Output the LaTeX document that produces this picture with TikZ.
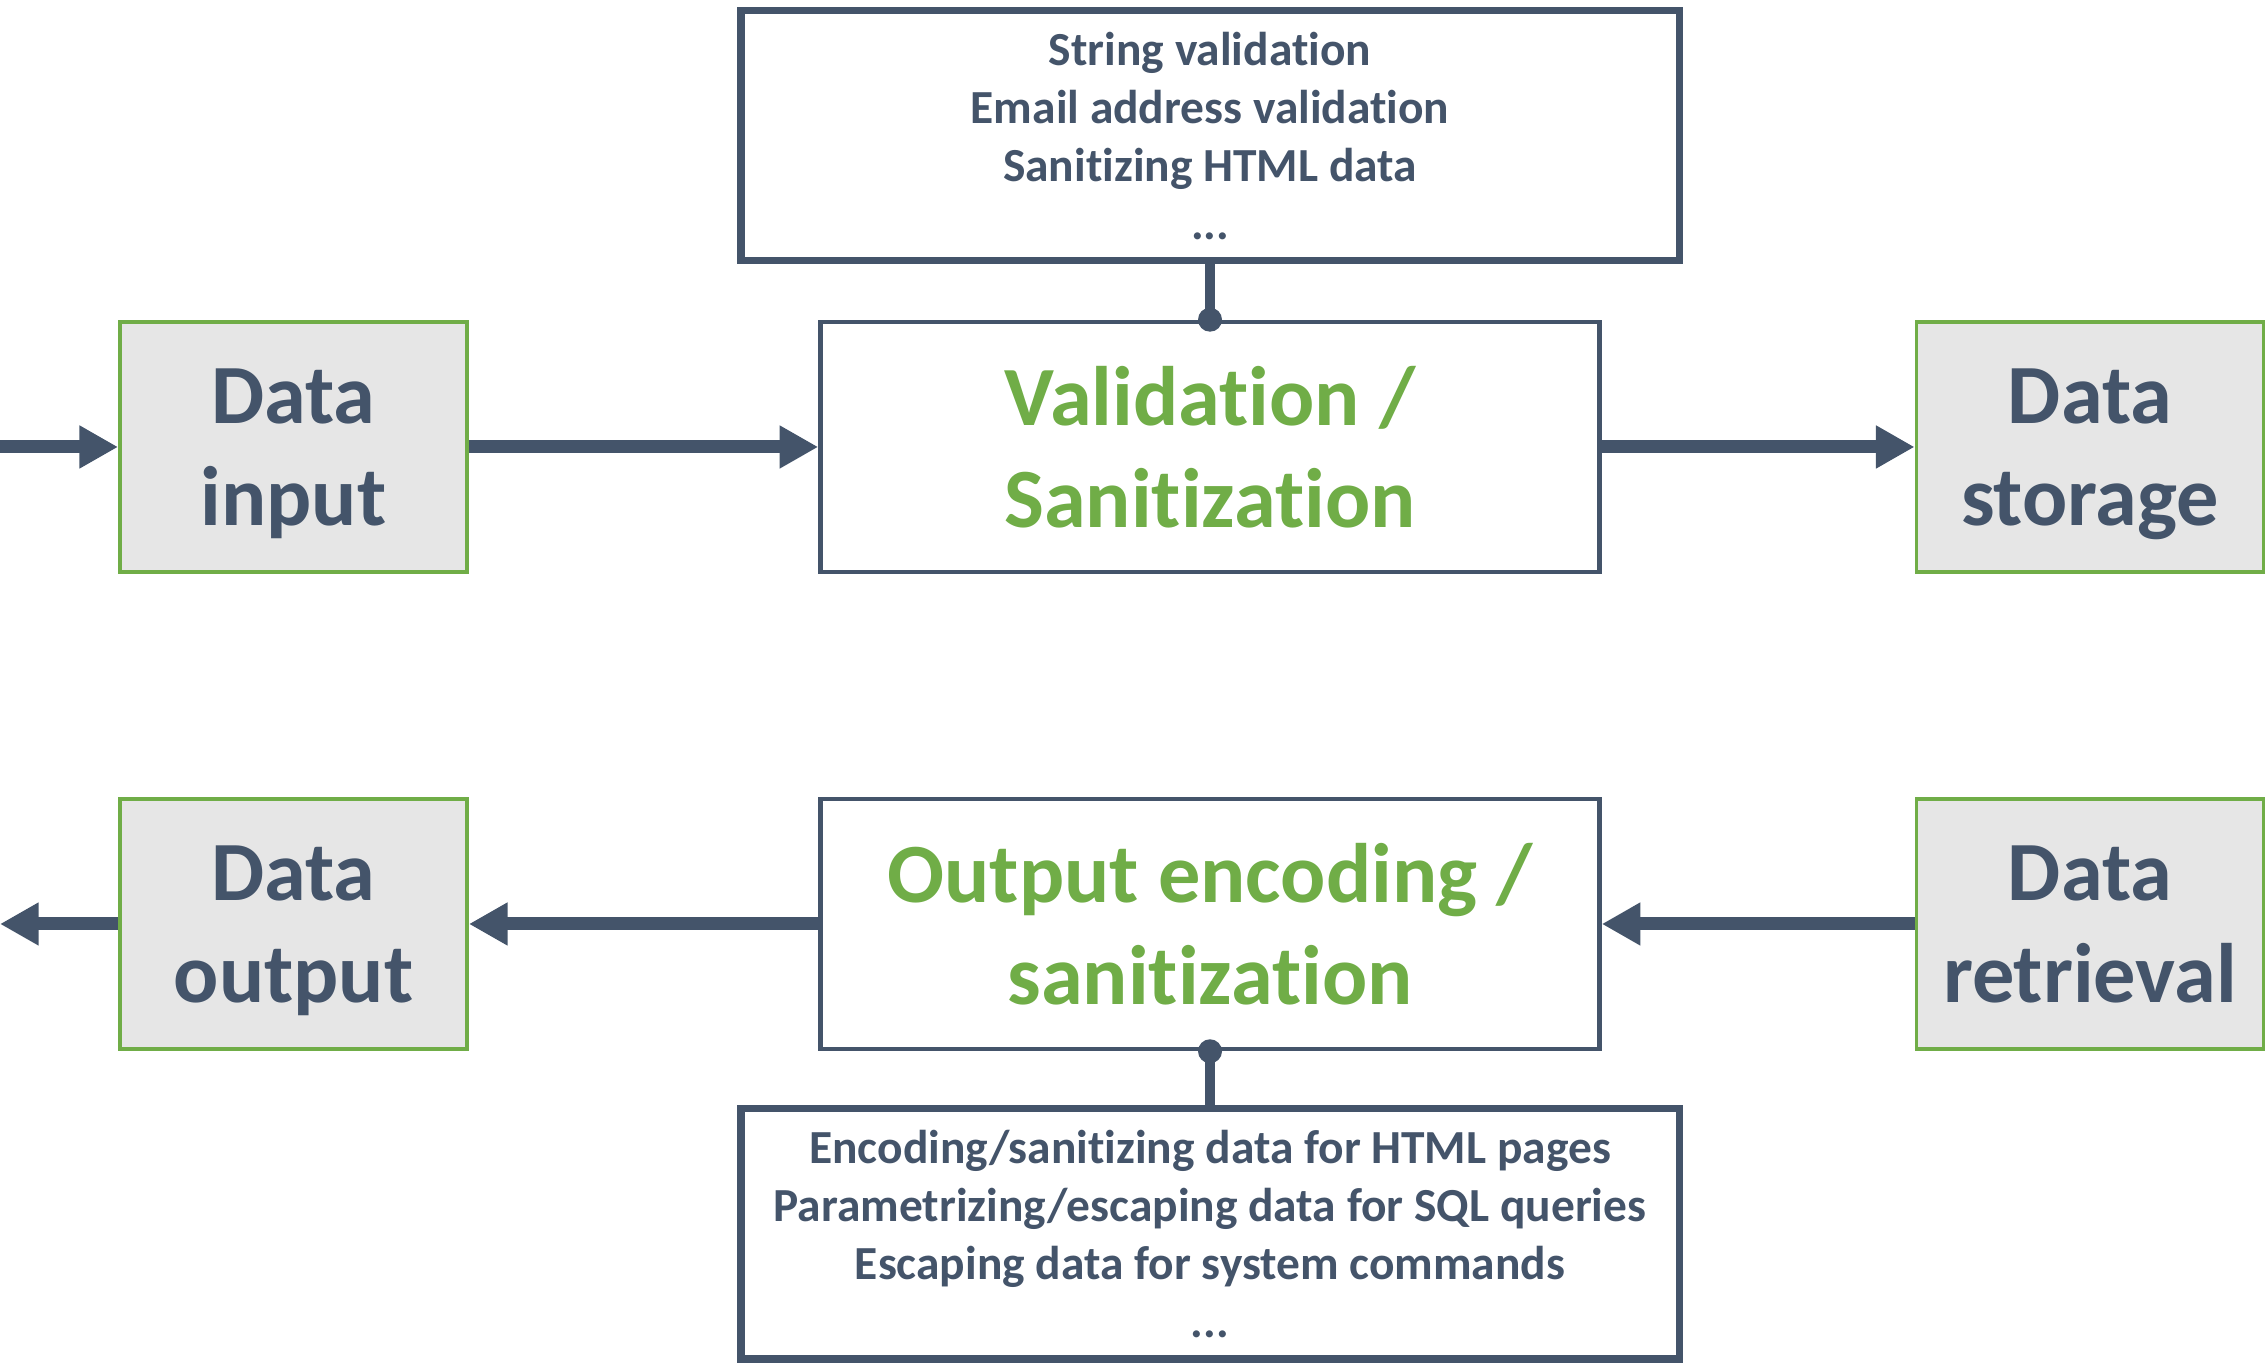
\documentclass[tikz,border=0pt]{standalone}
\usepackage{fontspec}
\setmainfont{Carlito}[Ligatures=NoCommon]
\usetikzlibrary{arrows.meta,positioning}
\definecolor{slate}{RGB}{68,84,106}
\definecolor{leafgreen}{RGB}{112,173,71}
\definecolor{boxgray}{RGB}{230,230,230}

\begin{document}
\begin{tikzpicture}[
      databox/.style={rectangle, draw=leafgreen, fill=boxgray, line width=1.1pt, minimum width=3.47cm, minimum height=2.5cm, inner sep=0pt, text depth=0pt, align=center, text=slate, font=\fontsize{24}{29}\selectfont\bfseries},
      stagebox/.style={rectangle, draw=slate, fill=white, line width=1.3pt, minimum width=7.79cm, minimum height=2.5cm, inner sep=0pt, align=center, text=leafgreen, font=\fontsize{24}{29}\selectfont\bfseries},
      listbox/.style={rectangle, draw=slate, fill=white, line width=2pt, minimum width=9.38cm, minimum height=2.5cm, inner sep=0pt, align=center, text=slate, font=\fontsize{13.5}{16.5}\selectfont\bfseries},
      arr/.style={-{Triangle[length=11pt, width=11.5pt]}, line width=3.7pt, color=slate},
      link/.style={line width=2.8pt, color=slate},
      dot/.style={circle, fill=slate, inner sep=0pt, minimum size=0.24cm}
    ]
      \useasboundingbox (0,0) rectangle (22.65,13.63);

      % Top row: input side
      \node[listbox] (checks) at (12.10, 12.27) {String validation\\Email address validation\\Sanitizing HTML data\\...};
      \node[databox] (input) at (2.935, 9.16) {Data\\input};
      \node[stagebox] (valid) at (12.10, 9.16) {Validation /\\Sanitization};
      \node[databox] (storage) at (20.90, 9.16) {Data\\storage};
      \coordinate (inflow) at (0, 9.16);

      % Bottom row: output side
      \node[databox] (output) at (2.935, 4.39) {Data\\output};
      \node[stagebox] (encode) at (12.10, 4.39) {Output encoding /\\sanitization};
      \node[databox] (retrieval) at (20.90, 4.39) {Data\\retrieval};
      \node[listbox] (escapes) at (12.10, 1.29) {Encoding/sanitizing data for HTML pages\\Parametrizing/escaping data for SQL queries\\Escaping data for system commands\\...};
      \coordinate (outflow) at (0, 4.39);

      % Links to the lists
      \draw[link] (checks.south) -- (valid.north);
      \node[dot] (vdot) at (valid.north) {};
      \draw[link] (encode.south) -- (escapes.north);
      \node[dot] (edot) at (encode.south) {};

      % Flow
      \draw[arr] (inflow) -- (input);
      \draw[arr] (input) -- (valid);
      \draw[arr] (valid) -- (storage);
      \draw[arr] (retrieval) -- (encode);
      \draw[arr] (encode) -- (output);
      \draw[arr] (output) -- (outflow);
    \end{tikzpicture}
\end{document}
